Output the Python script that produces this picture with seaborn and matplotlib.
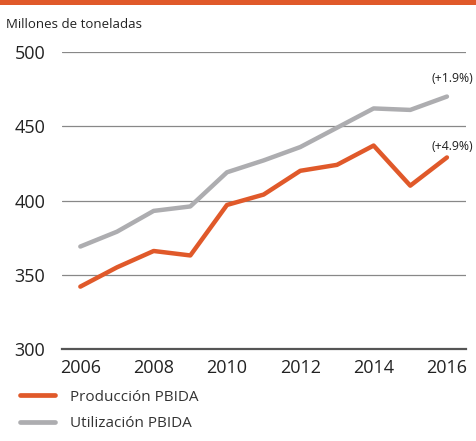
import pandas as pd
import seaborn as sns
import numpy as np
import matplotlib.pyplot as plt
from matplotlib.lines import Line2D

years = [2006, 2007, 2008, 2009, 2010, 2011, 2012, 2013, 2014, 2015, 2016]
produccion = [342, 355, 366, 363, 397, 404, 420, 424, 437, 410, 429]
utilizacion = [369, 379, 393, 396, 419, 427, 436, 449, 462, 461, 470]
series_names = ["Producción PBIDA", "Utilización PBIDA"]
end_labels = ["(+4.9%)", "(+1.9%)"]

orange = "#E0592A"
grey = "#ADADB0"

df = pd.DataFrame({"year": years * 2,
                   "value": produccion + utilizacion,
                   "serie": [series_names[0]] * len(years) + [series_names[1]] * len(years)})

sns.set_style("white")
plt.rcParams["font.family"] = ["Open Sans", "DejaVu Sans"]

fig = plt.figure(figsize=(4.77, 4.41), dpi=100)
ax = fig.add_axes([62 / 477, 1 - 349 / 441, (466 - 62) / 477, (349 - 52) / 441])

sns.lineplot(data=df, x="year", y="value", hue="serie",
             palette={series_names[0]: orange, series_names[1]: grey},
             hue_order=series_names[::-1],
             linewidth=3.2, legend=False, ax=ax)

ax.set_xlim(2005.5, 2016.52)
ax.set_ylim(300, 500)
ax.set_yticks([300, 350, 400, 450, 500])
ax.yaxis.grid(True, color="#888888", linewidth=0.9)
ax.set_axisbelow(True)
ax.set_xticks(years)
ax.set_xticklabels([str(y) if y % 2 == 0 else "" for y in years])
ax.tick_params(axis="x", direction="in", length=6, width=1.3, color="#333333",
               labelsize=13, pad=7, labelcolor="#222222")
ax.tick_params(axis="y", length=0, labelsize=13, pad=12, labelcolor="#222222")
for s in ["top", "right", "left"]:
    ax.spines[s].set_visible(False)
ax.spines["bottom"].set_color("#555555")
ax.spines["bottom"].set_linewidth(1.6)
ax.set_xlabel("")
ax.set_ylabel("")

ax.text(2015.58, 436.5, end_labels[0], fontsize=8.8, color="#222222",
        ha="left", va="center", clip_on=False)
ax.text(2015.58, 482, end_labels[1], fontsize=8.8, color="#222222",
        ha="left", va="center", clip_on=False)

fig.text(6 / 477, 1 - 24 / 441, "Millones de toneladas", fontsize=9.5, color="#222222",
         va="center", ha="left")

# top orange band
fig.add_artist(plt.Rectangle((0, 1 - 5 / 441), 1, 5 / 441, transform=fig.transFigure,
                             color=orange, linewidth=0))

handles = [Line2D([0], [0], color=orange, linewidth=3.4),
           Line2D([0], [0], color=grey, linewidth=3.4)]
fig.legend(handles, series_names, loc="upper left", bbox_to_anchor=(6 / 477, 1 - 376 / 441),
           frameon=False, fontsize=11, handlelength=2.3, handletextpad=1.0,
           labelspacing=0.75, labelcolor="#333333")

fig.savefig("out.png", dpi=100)
